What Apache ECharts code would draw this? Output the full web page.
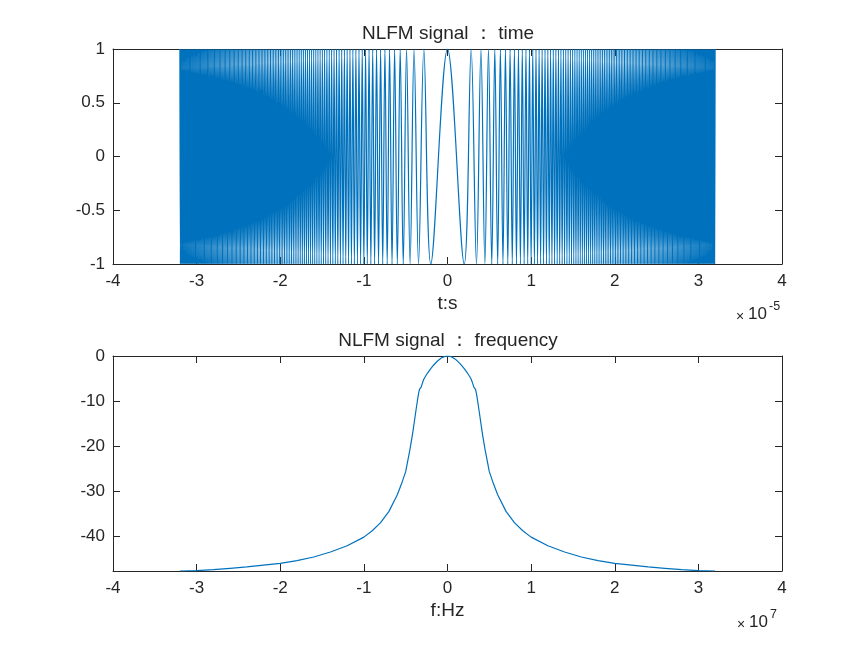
<!DOCTYPE html>
<html>
<head>
<meta charset="utf-8">
<script src="https://cdn.jsdelivr.net/npm/echarts/dist/echarts.min.js"></script>
<style>
html,body{margin:0;padding:0;background:#fff;}
#chart{width:865px;height:648px;}
</style>
</head>
<body>
<div id="chart"></div>
<script>
// ---------- DATA ----------
// Time-domain NLFM signal: times (unit 1e-5 s) of the oscillation peaks (+1) and troughs (-1)
// on the positive time axis; the waveform is symmetric about t = 0.
const peakLevel = 1;
const troughLevel = -1;
const peakTimes = [0,0.2828,0.4,0.4899,0.5657,0.6325,0.6928,0.7483,0.8,0.8485,0.8944,0.9381,0.9798,1.0198,1.0583,1.0954,1.1314,1.1662,1.2,1.2329,1.2649,1.2961,1.3266,1.3565,1.3856,1.4142,1.4422,1.4697,1.4967,1.5232,1.5492,1.5748,1.6,1.6248,1.6492,1.6733,1.6971,1.7205,1.7436,1.7664,1.7889,1.8111,1.8330,1.8547,1.8762,1.8974,1.9183,1.9391,1.9596,1.9799,2.0,2.0199,2.0396,2.0591,2.0785,2.0976,2.1166,2.1354,2.1541,2.1726,2.1909,2.2091,2.2271,2.2450,2.2627,2.2804,2.2978,2.3152,2.3324,2.3495,2.3664,2.3833,2.4,2.4166,2.4331,2.4495,2.4658,2.4819,2.4980,2.5140,2.5298,2.5456,2.5612,2.5768,2.5923,2.6077,2.6230,2.6382,2.6533,2.6683,2.6833,2.6981,2.7129,2.7276,2.7423,2.7568,2.7713,2.7857,2.8,2.8142,2.8284,2.8425,2.8566,2.8705,2.8844,2.8983,2.9120,2.9257,2.9394,2.9530,2.9665,2.9799,2.9933,3.0067,3.0199,3.0332,3.0463,3.0594,3.0725,3.0854,3.0984,3.1113,3.1241,3.1369,3.1496,3.1623,3.1749,3.1875,3.2];
const troughTimes = [0.2,0.3464,0.4472,0.5292,0.6,0.6633,0.7211,0.7746,0.8246,0.8718,0.9165,0.9592,1.0,1.0392,1.0770,1.1136,1.1489,1.1832,1.2166,1.2490,1.2806,1.3115,1.3416,1.3711,1.4,1.4283,1.4560,1.4832,1.5100,1.5362,1.5620,1.5875,1.6125,1.6371,1.6613,1.6852,1.7088,1.7321,1.7550,1.7776,1.8,1.8221,1.8439,1.8655,1.8868,1.9079,1.9287,1.9494,1.9698,1.9900,2.0100,2.0298,2.0494,2.0688,2.0881,2.1071,2.1260,2.1448,2.1633,2.1817,2.2,2.2181,2.2361,2.2539,2.2716,2.2891,2.3065,2.3238,2.3409,2.3580,2.3749,2.3917,2.4083,2.4249,2.4413,2.4576,2.4739,2.4900,2.5060,2.5219,2.5377,2.5534,2.5690,2.5846,2.6,2.6153,2.6306,2.6458,2.6608,2.6758,2.6907,2.7055,2.7203,2.7350,2.7495,2.7641,2.7785,2.7928,2.8071,2.8213,2.8355,2.8496,2.8636,2.8775,2.8914,2.9052,2.9189,2.9326,2.9462,2.9597,2.9732,2.9866,3.0,3.0133,3.0265,3.0397,3.0529,3.0659,3.0790,3.0919,3.1048,3.1177,3.1305,3.1432,3.1559,3.1686,3.1812,3.1937];

// Spectrum: frequency (unit 1e7 Hz) and magnitude (dB)
const specFreq = [-3.2,-3.0,-2.8,-2.6,-2.4,-2.2,-2.0,-1.8,-1.6,-1.4,-1.2,-1.0,-0.9,-0.8,-0.7,-0.6,-0.55,-0.5,-0.45,-0.42,-0.4,-0.38,-0.36,-0.345,-0.335,-0.325,-0.315,-0.3,-0.285,-0.27,-0.26,-0.25,-0.22,-0.2,-0.17,-0.15,-0.12,-0.1,-0.07,-0.05,-0.025,0,0.025,0.05,0.07,0.1,0.12,0.15,0.17,0.2,0.22,0.25,0.26,0.27,0.285,0.3,0.315,0.325,0.335,0.345,0.36,0.38,0.4,0.42,0.45,0.5,0.55,0.6,0.7,0.8,0.9,1.0,1.2,1.4,1.6,1.8,2.0,2.2,2.4,2.6,2.8,3.0,3.2];
const specDb = [-47.6,-47.5,-47.3,-47.0,-46.7,-46.3,-45.9,-45.3,-44.5,-43.4,-42.0,-40.1,-38.7,-36.9,-34.4,-30.7,-28.3,-25.6,-20.8,-17.5,-15.0,-12.4,-9.9,-8.2,-7.4,-7.2,-6.9,-6.0,-5.2,-4.7,-4.5,-4.1,-3.3,-2.8,-2.1,-1.7,-1.1,-0.8,-0.4,-0.2,-0.05,0,-0.05,-0.2,-0.4,-0.8,-1.1,-1.7,-2.1,-2.8,-3.3,-4.1,-4.5,-4.7,-5.2,-6.0,-6.9,-7.2,-7.4,-8.2,-9.9,-12.4,-15.0,-17.5,-20.8,-25.6,-28.3,-30.7,-34.4,-36.9,-38.7,-40.1,-42.0,-43.4,-44.5,-45.3,-45.9,-46.3,-46.7,-47.0,-47.3,-47.5,-47.6];

// Axis ticks
const xTicks = {min: -4, max: 4, interval: 1};
const yTicksTime = {min: -1, max: 1, interval: 0.5};
const yTicksSpec = [-40, -30, -20, -10, 0];
const ySpecMin = -47.6, ySpecMax = 0;

const titles = ['NLFM signal \uFF1A time', 'NLFM signal \uFF1A frequency'];
const xNames = ['t:s', 'f:Hz'];
const exponents = ['-5', '7'];

// ---------- BUILD ----------
const timeData = [];
peakTimes.forEach(t => { timeData.push([t, peakLevel]); if (t !== 0) timeData.push([-t, peakLevel]); });
troughTimes.forEach(t => { timeData.push([t, troughLevel]); timeData.push([-t, troughLevel]); });
timeData.sort((a, b) => a[0] - b[0]);
const specData = specFreq.map((f, i) => [f, specDb[i]]);

const FONT = '"Liberation Sans", Arial, Helvetica, sans-serif';
const INK = '#262626';
const BLUE = '#0072BD';
const TICK = 17, LABEL = 19;

const grids = [
  {left: 113, top: 49, width: 669, height: 215},
  {left: 113, top: 356, width: 669, height: 215}
];

function xAxes(gi) {
  const base = {
    type: 'value', gridIndex: gi, min: xTicks.min, max: xTicks.max, interval: xTicks.interval,
    axisLine: {show: true, onZero: false, lineStyle: {color: INK, width: 1}},
    axisTick: {show: true, inside: true, length: 7, lineStyle: {color: INK, width: 1}},
    splitLine: {show: false}
  };
  return [
    Object.assign({}, base, {
      position: 'bottom',
      axisLabel: {show: true, color: INK, fontSize: TICK, fontFamily: FONT, margin: 9, showMinLabel: true, showMaxLabel: true},
      name: xNames[gi], nameLocation: 'middle', nameGap: 30,
      nameTextStyle: {color: INK, fontSize: LABEL, fontFamily: FONT}
    }),
    Object.assign({}, base, {position: 'top', axisLabel: {show: false}})
  ];
}

function yAxes(gi) {
  const base = {
    type: 'value', gridIndex: gi,
    axisLine: {show: true, onZero: false, lineStyle: {color: INK, width: 1}},
    axisTick: {show: true, inside: true, length: 7, lineStyle: {color: INK, width: 1}},
    splitLine: {show: false}
  };
  let scale;
  if (gi === 0) {
    scale = {min: yTicksTime.min, max: yTicksTime.max, interval: yTicksTime.interval};
  } else {
    scale = {min: ySpecMin, max: ySpecMax};
  }
  const left = Object.assign({}, base, scale, {
    position: 'left',
    axisLabel: {show: true, color: INK, fontSize: TICK, fontFamily: FONT, margin: 8, showMinLabel: true, showMaxLabel: true}
  });
  const right = Object.assign({}, base, scale, {position: 'right', axisLabel: {show: false}});
  if (gi === 1) {
    left.axisTick = Object.assign({}, left.axisTick, {customValues: yTicksSpec});
    left.axisLabel = Object.assign({}, left.axisLabel, {customValues: yTicksSpec});
    right.axisTick = Object.assign({}, right.axisTick, {customValues: yTicksSpec});
  }
  return [left, right];
}

function txt(text, x, y, size, align, vAlign) {
  return {
    type: 'text', x: x, y: y, silent: true,
    style: {text: text, fontSize: size, fontFamily: FONT, fill: INK,
            align: align, verticalAlign: vAlign, textAlign: align, textVerticalAlign: vAlign}
  };
}

const graphics = [
  txt(titles[0], 448, 34, LABEL, 'center', 'middle'),
  txt(titles[1], 448, 341, LABEL, 'center', 'middle'),
  // exponent labels
  txt('\u00D7', 740, 317, 14, 'center', 'middle'),
  txt('10', 748, 314.5, TICK, 'left', 'middle'),
  txt(exponents[0], 769, 307, 12.5, 'left', 'middle'),
  txt('\u00D7', 741, 625, 14, 'center', 'middle'),
  txt('10', 749, 622, TICK, 'left', 'middle'),
  txt(exponents[1], 770, 614.5, 12.5, 'left', 'middle')
];

const chart = echarts.init(document.getElementById('chart'), null, {renderer: 'canvas'});
chart.setOption({
  animation: false,
  backgroundColor: '#ffffff',
  grid: grids,
  xAxis: [].concat(xAxes(0), xAxes(1)),
  yAxis: [].concat(yAxes(0), yAxes(1)),
  graphic: graphics,
  series: [
    {
      type: 'line', xAxisIndex: 0, yAxisIndex: 0, data: timeData,
      showSymbol: false, symbol: 'none', smooth: 0.363,
      lineStyle: {color: BLUE, width: 1.2}, clip: true
    },
    {
      type: 'line', xAxisIndex: 2, yAxisIndex: 2, data: specData,
      showSymbol: false, symbol: 'none', smooth: false,
      lineStyle: {color: BLUE, width: 1.2}, clip: true
    }
  ]
});
</script>
</body>
</html>
